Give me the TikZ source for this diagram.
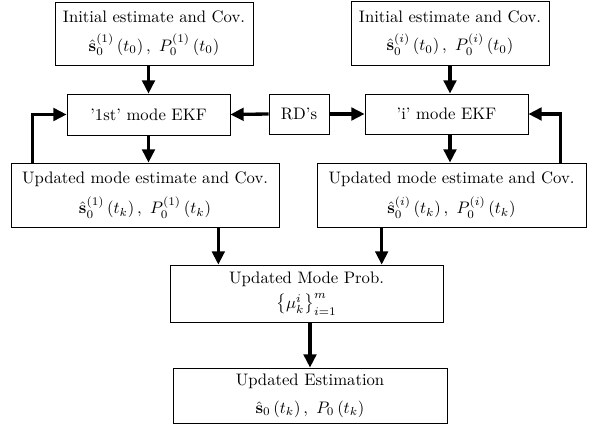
\documentclass[tikz,border=0pt]{standalone}
\usepackage{amsmath,amssymb}
\usepackage{tikz}
\usetikzlibrary{calc,arrows.meta,positioning}

\begin{document}
\begin{tikzpicture}[x=0.6pt, y=-0.6pt, every node/.style={font=\normalsize}]
\useasboundingbox (0,0) rectangle (591,428);
\tikzset{blockbox/.style={draw, fill=white, align=center, inner sep=2pt},
  flowarrow/.style={-{Triangle[length=8pt,width=7.5pt]}, line width=2pt}}

% initial estimates
\node[blockbox, minimum width=118.8pt, minimum height=37.8pt] (init1) at (154,33.5) {Initial estimate and Cov.\\[5pt] $\hat{\mathbf{s}}_0^{(1)}\left(t_0\right),\ P_0^{(1)}\left(t_0\right)$};
\node[blockbox, minimum width=118.8pt, minimum height=38.4pt] (initi) at (450,33) {Initial estimate and Cov.\\[5pt] $\hat{\mathbf{s}}_0^{(i)}\left(t_0\right),\ P_0^{(i)}\left(t_0\right)$};

% mode filters
\node[blockbox, minimum width=97.8pt, minimum height=24.6pt] (ekf1) at (148.5,114.5) {'1st' mode EKF};
\node[blockbox, minimum width=36pt, minimum height=24pt] (rds) at (299,114) {RD's};
\node[blockbox, minimum width=97.8pt, minimum height=24pt] (ekfi) at (446.5,114) {'i' mode EKF};

% updated estimates
\node[blockbox, minimum width=160.8pt, minimum height=38.4pt] (upd1) at (145,195) {Updated mode estimate and Cov.\\[5pt] $\hat{\mathbf{s}}_0^{(1)}\left(t_k\right),\ P_0^{(1)}\left(t_k\right)$};
\node[blockbox, minimum width=161.4pt, minimum height=38.4pt] (updi) at (451.5,195) {Updated mode estimate and Cov.\\[5pt] $\hat{\mathbf{s}}_0^{(i)}\left(t_k\right),\ P_0^{(i)}\left(t_k\right)$};

% mode probability and output
\node[blockbox, minimum width=163.8pt, minimum height=34.2pt] (prob) at (306.5,293.5) {Updated Mode Prob.\\[3pt] $\left\{\mu_k^i\right\}_{i=1}^m$};
\node[blockbox, minimum width=164.4pt, minimum height=33pt] (est) at (310,395.5) {Updated Estimation\\[5pt] $\hat{\mathbf{s}}_0\left(t_k\right),\ P_0\left(t_k\right)$};

\draw[flowarrow] (ekf1.north |- init1.south) -- (ekf1.north);
\draw[flowarrow] (ekf1.south) -- (ekf1.south |- upd1.north);
\draw[flowarrow] (initi.south) -- (initi.south |- ekfi.north);
\draw[flowarrow] (initi.south |- ekfi.south) -- (initi.south |- updi.north);
\draw[flowarrow] (rds.west) -- (ekf1.east);
\draw[flowarrow] (rds.east) -- (ekfi.west);
\draw[flowarrow] ([xshift=13.2pt]upd1.north west) |- (ekf1.west);
\draw[flowarrow] ([xshift=-15.6pt]updi.north east) |- (ekfi.east);
\draw[flowarrow] ([xshift=-36.6pt]upd1.south east) -- ([xshift=-36.6pt]upd1.south east |- prob.north);
\draw[flowarrow] ([xshift=39pt]updi.south west) -- ([xshift=39pt]updi.south west |- prob.north);
\draw[flowarrow] (est.north |- prob.south) -- (est.north);
\end{tikzpicture}
\end{document}
